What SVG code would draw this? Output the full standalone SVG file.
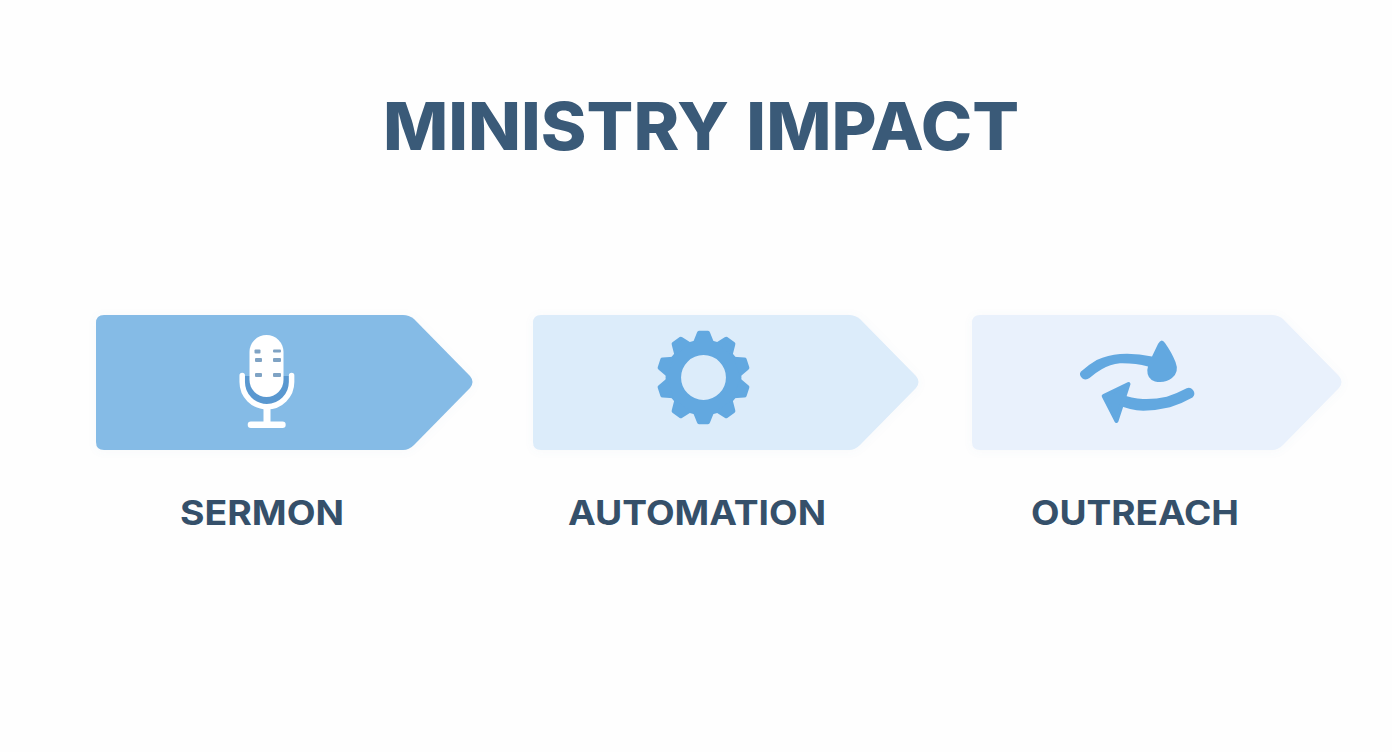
<svg xmlns="http://www.w3.org/2000/svg" width="1392" height="752" viewBox="0 0 1392 752">
<style>
text{font-family:"Inter","Liberation Sans",sans-serif;font-weight:700;fill:#35506a}
.t{font-size:66px;font-weight:800;fill:#3a5a78;word-spacing:2px}
.l{font-size:34px}
.b{filter:url(#sh)}
.i{fill:#62a8e0}
.w{fill:#fff}
.c{fill:#7fa3c4}
</style>
<defs>
<filter id="sh" x="-5%" y="-10%" width="110%" height="125%"><feDropShadow dx="0" dy="1" stdDeviation="4" flood-color="#6f9fc8" flood-opacity=".05"/></filter>
<path id="tooth" d="M-10.500-35-6.500-45Q-6-46.700-4.500-46.700H4.500Q6-46.700 6.500-45L10.500-35Z" fill="#62a8e0"/>
</defs>
<rect width="1392" height="752" fill="#fefefe"/>
<g id="title"><text class="t" x="383" y="150" textLength="636" lengthAdjust="spacingAndGlyphs">MINISTRY IMPACT</text></g>
<g id="connectors"></g>
<g id="sermon">
<path class="b" d="M104 315H403Q409 315 414 319L470 376Q475 382 470 388L414 445Q409 450 403 450H104Q96 450 96 442V323Q96 315 104 315Z" fill="#85bbe6"/>
<path d="M245 376V382Q245 405 267 405Q289 405 289 382V376Z" fill="#5a98d0"/>
<rect class="w" x="249.500" y="335" width="34" height="62" rx="17"/>
<g class="c"><rect x="254.500" y="349.500" width="6" height="4" rx="1"/><rect x="273" y="349.500" width="8" height="3" rx="1"/><rect x="255" y="358" width="7" height="4" rx="1"/><rect x="273" y="358" width="8" height="4" rx="1"/><rect x="255" y="373" width="7" height="4" rx="1"/><rect x="273" y="373" width="8" height="4" rx="1"/></g>
<path d="M242.200 375.500V382A24.700 24.700 0 0 0 291.600 382V375.500" fill="none" stroke="#fff" stroke-width="5.500" stroke-linecap="round"/>
<rect class="w" x="263.500" y="407" width="7" height="16"/>
<rect class="w" x="247.700" y="421.500" width="38" height="6.500" rx="3.200"/>
<text class="l" x="180" y="525" textLength="164" lengthAdjust="spacingAndGlyphs">SERMON</text>
</g>
<g id="automation">
<path class="b" d="M541 315H849Q855 315 860 319L916 376Q921 382 916 388L860 445Q855 450 849 450H541Q533 450 533 442V323Q533 315 541 315Z" fill="#dcecfa"/>
<g transform="translate(703.500 377.500)">
<circle r="30.200" fill="none" stroke="#62a8e0" stroke-width="15.500"/>
<use href="#tooth"/><use href="#tooth" transform="rotate(36)"/><use href="#tooth" transform="rotate(72)"/><use href="#tooth" transform="rotate(108)"/><use href="#tooth" transform="rotate(144)"/><use href="#tooth" transform="rotate(180)"/><use href="#tooth" transform="rotate(216)"/><use href="#tooth" transform="rotate(252)"/><use href="#tooth" transform="rotate(288)"/><use href="#tooth" transform="rotate(324)"/>
</g>
<text class="l" x="568" y="525" textLength="258" lengthAdjust="spacingAndGlyphs">AUTOMATION</text>
</g>
<g id="outreach">
<path class="b" d="M980 315H1272Q1278 315 1283 319L1339 376Q1344 382 1339 388L1283 445Q1278 450 1272 450H980Q972 450 972 442V323Q972 315 980 315Z" fill="#e9f1fc"/>
<path class="i" d="M1080.700 371.700Q1088 365 1096.700 360Q1108 355 1120 354Q1136 353 1152 356.500L1158 344Q1161.500 337.500 1165 343Q1172 353 1175.500 362Q1179.500 372 1172 378Q1165 383.500 1155 381.500Q1147 379 1147.300 370L1148 366.500Q1135 363 1120 363.300Q1110 364.500 1101.700 369.300Q1096 372.500 1089.500 378Q1086 380.500 1082.500 378.500Q1078.500 375 1080.700 371.700Z"/>
<path class="i" d="M1186.700 388.300Q1177 393.500 1166.700 396.700Q1155 399.500 1143 399Q1132 398.500 1120 394L1116 404Q1130 410.500 1143.300 410.700Q1157 410.500 1170 407.300Q1182 403.500 1192.500 397.500Q1196 394 1193 390Q1190 386.500 1186.700 388.300Z"/>
<path class="i" stroke="#62a8e0" stroke-width="4" stroke-linejoin="round" d="M1103.700 396 1128.500 384 1116.500 421Z"/>
<text class="l" x="1031" y="525" textLength="208" lengthAdjust="spacingAndGlyphs">OUTREACH</text>
</g>
</svg>
